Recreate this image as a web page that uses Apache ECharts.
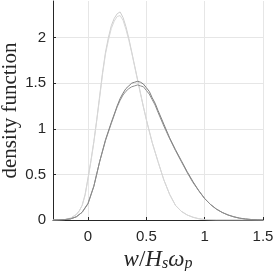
<!DOCTYPE html>
<html><head><meta charset="utf-8">
<script src="https://cdn.jsdelivr.net/npm/echarts@6/dist/echarts.min.js"></script>
<style>html,body{margin:0;padding:0;background:#fff}#c{width:274px;height:271px}</style>
</head><body><div id="c"></div>
<script>
var xTicks = [0, 0.5, 1, 1.5];
var yTicks = [0, 0.5, 1, 1.5, 2];

var lightX = [-0.3,-0.2,-0.15,-0.1,-0.075,-0.05,-0.025,0,0.025,0.05,0.075,0.1,0.125,0.15,0.175,0.2,0.225,0.25,0.275,0.3,0.325,0.35,0.375,0.4,0.425,0.45,0.475,0.5,0.55,0.6,0.65,0.7,0.75,0.8,0.85,0.9,0.95,1.0,1.1,1.5];
var lightA = [0,0.005,0.02,0.06,0.1,0.16,0.28,0.46,0.65,0.86,1.1,1.36,1.62,1.84,2.0,2.13,2.21,2.26,2.28,2.22,2.12,1.99,1.84,1.69,1.54,1.39,1.24,1.1,0.85,0.64,0.44,0.28,0.16,0.095,0.055,0.03,0.014,0.005,0.001,0];
var lightB = [0,0.005,0.02,0.06,0.1,0.16,0.27,0.45,0.64,0.85,1.09,1.34,1.6,1.82,1.97,2.1,2.18,2.23,2.24,2.19,2.09,1.97,1.83,1.68,1.53,1.38,1.24,1.1,0.85,0.64,0.44,0.28,0.16,0.095,0.055,0.03,0.014,0.005,0.001,0];

var darkX = [-0.3,-0.25,-0.2,-0.15,-0.1,-0.05,0,0.05,0.1,0.15,0.2,0.25,0.275,0.3,0.325,0.35,0.375,0.4,0.425,0.45,0.475,0.5,0.525,0.55,0.575,0.6,0.65,0.7,0.75,0.8,0.85,0.9,0.95,1.0,1.05,1.1,1.15,1.2,1.25,1.3,1.35,1.4,1.45,1.5];
var darkA = [0,0.001,0.004,0.012,0.035,0.085,0.18,0.37,0.64,0.88,1.07,1.25,1.33,1.39,1.44,1.47,1.5,1.51,1.52,1.51,1.49,1.45,1.41,1.34,1.28,1.2,1.05,0.9,0.77,0.65,0.53,0.42,0.32,0.235,0.17,0.12,0.083,0.055,0.035,0.02,0.011,0.005,0.002,0];
var darkB = [0,0.001,0.004,0.012,0.035,0.085,0.18,0.37,0.64,0.87,1.06,1.24,1.31,1.37,1.41,1.44,1.46,1.47,1.48,1.47,1.46,1.42,1.38,1.32,1.26,1.18,1.03,0.89,0.76,0.64,0.52,0.41,0.32,0.235,0.17,0.12,0.083,0.055,0.035,0.02,0.011,0.005,0.002,0];

function pairs(xs, ys){ return xs.map(function(x,i){ return [x, ys[i]]; }); }

var chart = echarts.init(document.getElementById('c'), null, {renderer:'canvas'});
var axisColor = '#262626';
var gridColor = '#e6e6e6';
function line(name, xs, ys, color){
  return {name:name, type:'line', data:pairs(xs, ys), showSymbol:false, symbol:'none',
    lineStyle:{color:color, width:1}, z:3, animation:false};
}
chart.setOption({
  animation:false,
  grid:{left:53, right:11, top:1, bottom:51, containLabel:false, outerBoundsMode:'none'},
  xAxis:{type:'value', min:-0.3, max:1.5,
    name:'{i|w}{n|/}{i|H}{s|s}{i|ω}{s|p}', nameLocation:'middle', nameGap:28, nameMoveOverlap:false,
    nameTextStyle:{rich:{
      i:{fontFamily:'Liberation Serif', fontStyle:'italic', fontSize:23, color:axisColor},
      n:{fontFamily:'Liberation Serif', fontSize:23, color:axisColor},
      s:{fontFamily:'Liberation Serif', fontStyle:'italic', fontSize:16, color:axisColor, verticalAlign:'bottom', padding:[8,0,0,0]}
    }},
    axisLine:{onZero:false, lineStyle:{color:axisColor, width:1}},
    axisTick:{inside:true, length:3, customValues:xTicks, lineStyle:{color:axisColor}},
    axisLabel:{customValues:xTicks, color:axisColor, fontFamily:'Liberation Sans', fontSize:15, margin:9},
    splitLine:{show:true, lineStyle:{color:gridColor, width:1}}
  },
  yAxis:{type:'value', min:0, max:2.4,
    name:'density function', nameLocation:'middle', nameGap:32, nameRotate:90, nameMoveOverlap:false,
    nameTextStyle:{fontFamily:'Liberation Serif', fontSize:21, color:axisColor},
    axisLine:{show:true, onZero:false, lineStyle:{color:axisColor, width:1}},
    axisTick:{show:true, inside:true, length:3, customValues:yTicks, lineStyle:{color:axisColor}},
    axisLabel:{customValues:yTicks, color:axisColor, fontFamily:'Liberation Sans', fontSize:15, margin:7},
    splitLine:{show:true, lineStyle:{color:gridColor, width:1}}
  },
  series:[
    line('light A', lightX, lightA, '#cdcdcd'),
    line('light B', lightX, lightB, '#d8d8d8'),
    line('dark A', darkX, darkA, '#7c7c7c'),
    line('dark B', darkX, darkB, '#8e8e8e')
  ]
});
</script>
</body></html>
